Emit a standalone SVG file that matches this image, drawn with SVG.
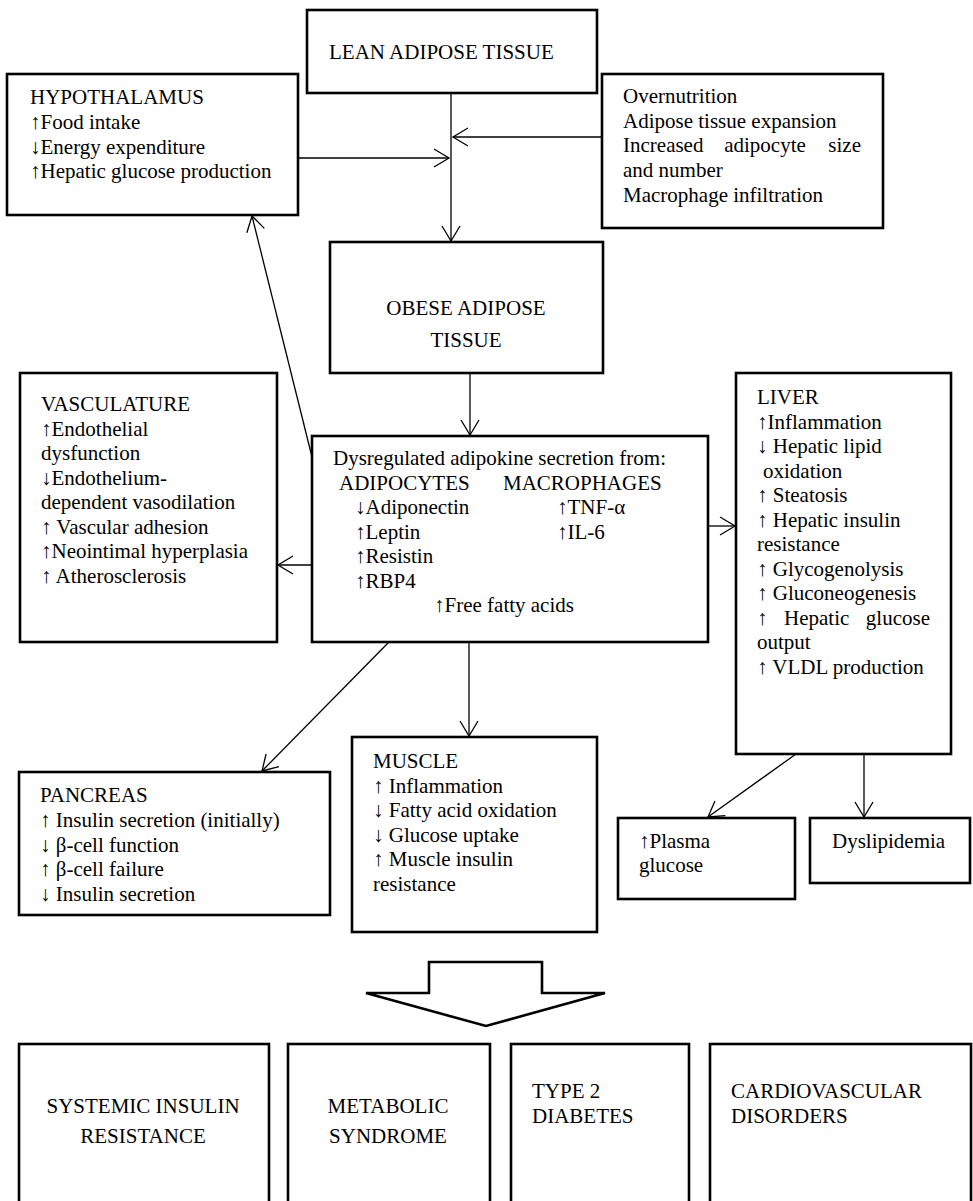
<svg xmlns="http://www.w3.org/2000/svg" width="973" height="1201" viewBox="0 0 973 1201">
<style>
.box{fill:#fff;stroke:#000;stroke-width:2.6}
.t{font-family:"Liberation Serif","Times New Roman",serif;font-size:21px;fill:#000}
.c{text-anchor:middle}
.e{text-anchor:end}
.ln{fill:none;stroke:#000;stroke-width:1.3}
</style>
<defs>
<marker id="ah" markerUnits="userSpaceOnUse" markerWidth="24" markerHeight="24" viewBox="-18 -12 20 24" refX="0" refY="0" orient="auto">
<path d="M-15,-9 L0,0 L-15,9" fill="none" stroke="#000" stroke-width="1.3"/>
</marker>
</defs>
<rect width="973" height="1201" fill="#fff"/>
<g id="connectors">
<line class="ln" x1="451" y1="93" x2="451" y2="241" marker-end="url(#ah)"/>
<line class="ln" x1="298" y1="158" x2="449" y2="158" marker-end="url(#ah)"/>
<line class="ln" x1="602" y1="137" x2="453" y2="137" marker-end="url(#ah)"/>
<line class="ln" x1="470" y1="373" x2="470" y2="435" marker-end="url(#ah)"/>
<line class="ln" x1="312" y1="457" x2="252" y2="216" marker-end="url(#ah)"/>
<line class="ln" x1="708" y1="526" x2="735" y2="526" marker-end="url(#ah)"/>
<line class="ln" x1="312" y1="565" x2="278" y2="565" marker-end="url(#ah)"/>
<line class="ln" x1="389" y1="642" x2="262" y2="771" marker-end="url(#ah)"/>
<line class="ln" x1="469" y1="642" x2="469" y2="736" marker-end="url(#ah)"/>
<line class="ln" x1="796" y1="754" x2="708" y2="817" marker-end="url(#ah)"/>
<line class="ln" x1="864" y1="754" x2="864" y2="817" marker-end="url(#ah)"/>
</g>
<g id="lean">
<rect class="box" x="307" y="10" width="290" height="83"/>
<text class="t" x="329" y="59">LEAN ADIPOSE TISSUE</text>
</g>
<g id="hypothalamus">
<rect class="box" x="7" y="74" width="291" height="141"/>
<text class="t" x="30" y="104">HYPOTHALAMUS</text>
<text class="t" x="30" y="129">↑Food intake</text>
<text class="t" x="30" y="154">↓Energy expenditure</text>
<text class="t" x="30" y="178">↑Hepatic glucose production</text>
</g>
<g id="overnutrition">
<rect class="box" x="602" y="74" width="281" height="154"/>
<text class="t" x="623" y="103">Overnutrition</text>
<text class="t" x="623" y="128">Adipose tissue expansion</text>
<text class="t" x="623" y="152">Increased</text>
<text class="t c" x="765" y="152">adipocyte</text>
<text class="t e" x="861" y="152">size</text>
<text class="t" x="623" y="177">and number</text>
<text class="t" x="623" y="202">Macrophage infiltration</text>
</g>
<g id="obese">
<rect class="box" x="330" y="242" width="273" height="131"/>
<text class="t c" x="466" y="315">OBESE ADIPOSE</text>
<text class="t c" x="466" y="347">TISSUE</text>
</g>
<g id="vasculature">
<rect class="box" x="20" y="373" width="257" height="269"/>
<text class="t" x="41" y="411">VASCULATURE</text>
<text class="t" x="41" y="435.5">↑Endothelial</text>
<text class="t" x="41" y="460">dysfunction</text>
<text class="t" x="41" y="484.5">↓Endothelium-</text>
<text class="t" x="41" y="509">dependent vasodilation</text>
<text class="t" x="41" y="533.5">↑ Vascular adhesion</text>
<text class="t" x="41" y="558">↑Neointimal hyperplasia</text>
<text class="t" x="41" y="582.5">↑ Atherosclerosis</text>
</g>
<g id="adipokines">
<rect class="box" x="312" y="436" width="396" height="206"/>
<text class="t" x="333" y="465">Dysregulated adipokine secretion from:</text>
<text class="t" x="339" y="489.5">ADIPOCYTES</text>
<text class="t" x="503" y="489.5">MACROPHAGES</text>
<text class="t" x="355" y="514">↓Adiponectin</text>
<text class="t" x="557" y="514">↑TNF-α</text>
<text class="t" x="355" y="538.5">↑Leptin</text>
<text class="t" x="557" y="538.5">↑IL-6</text>
<text class="t" x="355" y="563">↑Resistin</text>
<text class="t" x="355" y="587.5">↑RBP4</text>
<text class="t" x="434" y="612">↑Free fatty acids</text>
</g>
<g id="liver">
<rect class="box" x="736" y="373" width="215" height="381"/>
<text class="t" x="757" y="404">LIVER</text>
<text class="t" x="757" y="428.5">↑Inflammation</text>
<text class="t" x="757" y="453">↓ Hepatic lipid</text>
<text class="t" x="763" y="477.5">oxidation</text>
<text class="t" x="757" y="502">↑ Steatosis</text>
<text class="t" x="757" y="526.5">↑ Hepatic insulin</text>
<text class="t" x="757" y="551">resistance</text>
<text class="t" x="757" y="575.5">↑ Glycogenolysis</text>
<text class="t" x="757" y="600">↑ Gluconeogenesis</text>
<text class="t" x="757" y="624.5">↑</text>
<text class="t" x="784" y="624.5">Hepatic</text>
<text class="t e" x="930" y="624.5">glucose</text>
<text class="t" x="757" y="649">output</text>
<text class="t" x="757" y="673.5">↑ VLDL production</text>
</g>
<g id="pancreas">
<rect class="box" x="19" y="772" width="311" height="143"/>
<text class="t" x="40" y="802">PANCREAS</text>
<text class="t" x="40" y="827">↑ Insulin secretion (initially)</text>
<text class="t" x="40" y="851.5">↓ β-cell function</text>
<text class="t" x="40" y="876">↑ β-cell failure</text>
<text class="t" x="40" y="900.5">↓ Insulin secretion</text>
</g>
<g id="muscle">
<rect class="box" x="352" y="737" width="245" height="195"/>
<text class="t" x="373" y="768">MUSCLE</text>
<text class="t" x="373" y="793">↑ Inflammation</text>
<text class="t" x="373" y="817">↓ Fatty acid oxidation</text>
<text class="t" x="373" y="842">↓ Glucose uptake</text>
<text class="t" x="373" y="866">↑ Muscle insulin</text>
<text class="t" x="373" y="890.5">resistance</text>
</g>
<g id="plasma">
<rect class="box" x="618" y="818" width="177" height="81"/>
<text class="t" x="639" y="848">↑Plasma</text>
<text class="t" x="639" y="872">glucose</text>
</g>
<g id="dyslipidemia">
<rect class="box" x="810" y="818" width="160" height="65"/>
<text class="t" x="832" y="848">Dyslipidemia</text>
</g>
<g id="bigarrow">
<polygon class="box" points="429,962 542,962 542,993 605,993 486,1026 366,993 429,993"/>
</g>
<g id="systemic">
<rect class="box" x="19" y="1044" width="250" height="180"/>
<text class="t c" x="143" y="1113">SYSTEMIC INSULIN</text>
<text class="t c" x="143" y="1143">RESISTANCE</text>
</g>
<g id="metabolic">
<rect class="box" x="288" y="1044" width="202" height="180"/>
<text class="t c" x="388" y="1113">METABOLIC</text>
<text class="t c" x="388" y="1143">SYNDROME</text>
</g>
<g id="diabetes">
<rect class="box" x="511" y="1044" width="178" height="180"/>
<text class="t" x="532" y="1098">TYPE 2</text>
<text class="t" x="532" y="1123">DIABETES</text>
</g>
<g id="cardio">
<rect class="box" x="710" y="1044" width="261" height="180"/>
<text class="t" x="731" y="1098">CARDIOVASCULAR</text>
<text class="t" x="731" y="1123">DISORDERS</text>
</g>
</svg>
